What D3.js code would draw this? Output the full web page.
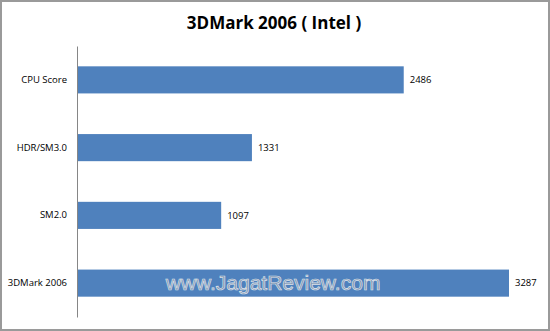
<!DOCTYPE html>
<html>
<head>
<meta charset="utf-8">
<script src="https://cdn.jsdelivr.net/npm/d3@7"></script>
<style>
  body { margin: 0; background: #fff; }
  svg { display: block; }
</style>
</head>
<body>
<div id="chart"></div>
<script>
// chart data
var categories = ["CPU Score", "HDR/SM3.0", "SM2.0", "3DMark 2006"];
var scores     = [2486, 1331, 1097, 3287];
var chartTitle = "3DMark 2006 ( Intel )";
var watermark  = "www.JagatReview.com";

var width  = 550;
var height = 331;
var margin = {top: 46, right: 13, bottom: 14, left: 77};

var svg = d3.select("#chart").append("svg")
    .attr("width", width)
    .attr("height", height);

// outer frame
svg.append("rect")
    .attr("x", 1).attr("y", 1)
    .attr("width", width - 2).attr("height", height - 2)
    .attr("fill", "#fff")
    .attr("stroke", "#9a9a9a")
    .attr("stroke-width", 2);

svg.append("text")
    .attr("x", 274)
    .attr("y", 29)
    .attr("text-anchor", "middle")
    .attr("font-family", "'Open Sans', sans-serif")
    .attr("font-weight", "bold")
    .attr("font-size", 17)
    .attr("fill", "#000")
    .text(chartTitle);

var x_scale = d3.scaleLinear()
    .domain([0, 3500])
    .range([margin.left, width - margin.right]);

var y_scale = d3.scaleBand()
    .domain(categories)
    .range([margin.top, height - margin.bottom])
    .paddingInner(0.6)
    .paddingOuter(0.3);

var g = svg.append("g");

g.selectAll("rect.bar")
    .data(categories)
    .enter().append("rect")
    .attr("class", "bar")
    .attr("x", x_scale(0))
    .attr("y", function (d) { return y_scale(d); })
    .attr("width", function (d, i) { return x_scale(scores[i]) - x_scale(0); })
    .attr("height", y_scale.bandwidth())
    .attr("fill", "#4f81bd");

// value labels
g.selectAll("text.val")
    .data(categories)
    .enter().append("text")
    .attr("class", "val")
    .attr("x", function (d, i) { return x_scale(scores[i]) + 6; })
    .attr("y", function (d) { return y_scale(d) + y_scale.bandwidth() / 2; })
    .attr("dy", "0.35em")
    .attr("font-family", "'Open Sans', sans-serif")
    .attr("font-size", 9.5)
    .attr("fill", "#000")
    .text(function (d, i) { return scores[i]; });

// category axis
var yAxis = d3.axisLeft(y_scale).tickSize(0).tickPadding(10);
var ax = svg.append("g")
    .attr("transform", "translate(" + x_scale(0) + ",0)")
    .call(yAxis);
ax.select(".domain").attr("stroke", "#868686");
ax.selectAll("text")
    .attr("font-family", "'Open Sans', sans-serif")
    .attr("font-size", 9.5)
    .attr("fill", "#000");

// watermark
svg.append("text")
    .attr("x", 273)
    .attr("y", 290)
    .attr("text-anchor", "middle")
    .attr("font-family", "'Liberation Sans', Arial, sans-serif")
    .attr("font-size", 21)
    .attr("fill", "#8595ad")
    .attr("fill-opacity", 0.85)
    .attr("stroke", "#dde2ea")
    .attr("stroke-width", 0.7)
    .text(watermark);
</script>
</body>
</html>
